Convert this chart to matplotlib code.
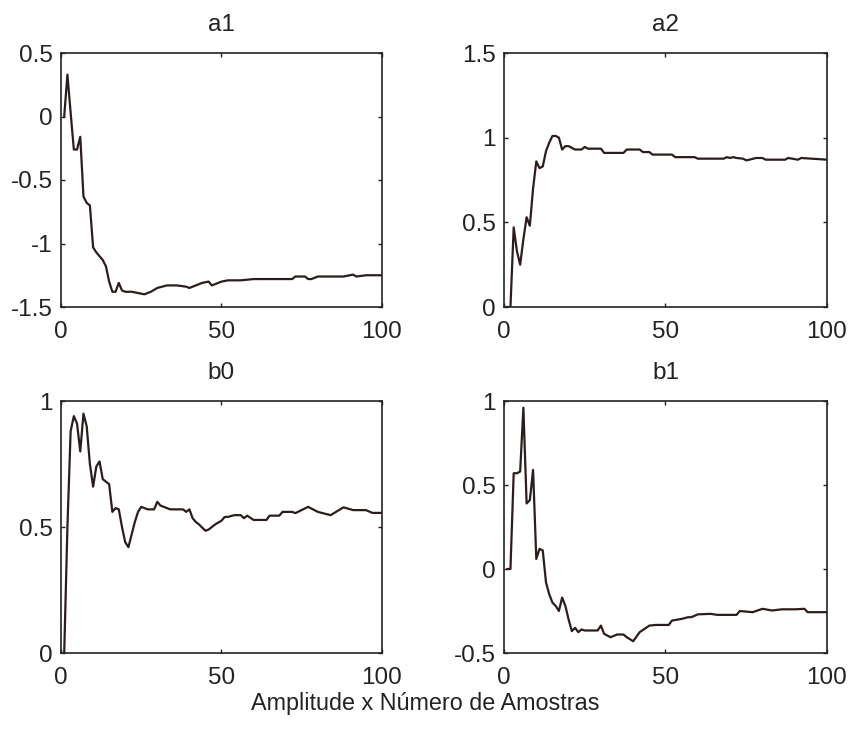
import matplotlib
matplotlib.use("Agg")
import matplotlib.pyplot as plt

plt.rcParams['font.family'] = ['Liberation Sans', 'DejaVu Sans']

# Parameter estimates vs. sample number
a1_x = [1, 2, 3, 4, 5, 6, 7, 8, 9, 10, 11, 12, 13, 14, 15, 16, 17, 18, 19, 20,
        22, 24, 26, 28, 30, 33, 36, 39, 40, 42, 44, 46, 47, 48, 50, 52, 56, 60,
        66, 72, 73, 76, 77, 78, 80, 84, 88, 91, 92, 95, 100]
a1_y = [0, 0.33, 0.03, -0.26, -0.26, -0.16, -0.63, -0.68, -0.70, -1.03, -1.07,
        -1.10, -1.13, -1.18, -1.30, -1.38, -1.38, -1.31, -1.37, -1.38, -1.38,
        -1.39, -1.40, -1.38, -1.35, -1.33, -1.33, -1.34, -1.35, -1.33, -1.31,
        -1.30, -1.33, -1.32, -1.30, -1.29, -1.29, -1.28, -1.28, -1.28, -1.26,
        -1.26, -1.28, -1.28, -1.26, -1.26, -1.26, -1.245, -1.26, -1.25, -1.25]

a2_x = [1, 2, 3, 4, 5, 6, 7, 8, 9, 10, 11, 12, 13, 14, 15, 16, 17, 18, 19, 20,
        21, 22, 24, 25, 26, 30, 31, 37, 38, 42, 43, 45, 46, 52, 53, 59, 60, 68,
        69, 70, 71, 72, 74, 75, 76, 78, 80, 81, 87, 88, 91, 92, 100]
a2_y = [0, 0, 0.47, 0.33, 0.25, 0.40, 0.53, 0.48, 0.70, 0.86, 0.82, 0.83, 0.92,
        0.97, 1.01, 1.01, 1.00, 0.93, 0.95, 0.95, 0.94, 0.93, 0.93, 0.945,
        0.935, 0.935, 0.91, 0.91, 0.93, 0.93, 0.915, 0.915, 0.90, 0.90, 0.885,
        0.885, 0.876, 0.876, 0.885, 0.88, 0.885, 0.88, 0.876, 0.866, 0.87,
        0.88, 0.88, 0.87, 0.87, 0.88, 0.87, 0.88, 0.87]

b0_x = [1, 2, 3, 4, 5, 6, 7, 8, 9, 10, 11, 12, 13, 14, 15, 16, 17, 18, 19, 20,
        21, 22, 23, 24, 25, 27, 29, 30, 31, 32, 34, 38, 39, 40, 41, 42, 43, 45,
        46, 48, 50, 51, 52, 54, 56, 57, 58, 60, 64, 65, 68, 69, 72, 73, 77, 80,
        84, 88, 91, 95, 97, 100]
b0_y = [0, 0.5, 0.88, 0.94, 0.91, 0.80, 0.95, 0.90, 0.75, 0.66, 0.74, 0.76,
        0.69, 0.68, 0.67, 0.56, 0.575, 0.57, 0.50, 0.44, 0.42, 0.47, 0.52, 0.56,
        0.58, 0.57, 0.57, 0.60, 0.585, 0.58, 0.57, 0.57, 0.56, 0.57, 0.535,
        0.52, 0.51, 0.485, 0.49, 0.51, 0.525, 0.54, 0.54, 0.547, 0.547, 0.535,
        0.545, 0.528, 0.528, 0.545, 0.545, 0.56, 0.56, 0.555, 0.58, 0.56,
        0.547, 0.578, 0.567, 0.567, 0.556, 0.556]

b1_x = [1, 2, 3, 4, 5, 6, 7, 8, 9, 10, 11, 12, 13, 14, 15, 16, 17, 18, 19, 20,
        21, 22, 23, 24, 25, 27, 29, 30, 31, 33, 35, 37, 38, 40, 42, 45, 47, 51,
        52, 55, 57, 58, 60, 64, 66, 72, 73, 77, 80, 83, 86, 90, 93, 94, 100]
b1_y = [0, 0, 0.57, 0.57, 0.58, 0.96, 0.39, 0.41, 0.59, 0.06, 0.12, 0.11,
        -0.08, -0.15, -0.20, -0.22, -0.25, -0.17, -0.22, -0.30, -0.37, -0.35,
        -0.376, -0.36, -0.366, -0.366, -0.366, -0.337, -0.386, -0.406, -0.39,
        -0.39, -0.406, -0.43, -0.376, -0.337, -0.333, -0.333, -0.307, -0.297,
        -0.287, -0.287, -0.27, -0.267, -0.273, -0.273, -0.25, -0.257, -0.237,
        -0.247, -0.24, -0.24, -0.237, -0.257, -0.257]

titles = ['a1', 'a2', 'b0', 'b1']
xs = [a1_x, a2_x, b0_x, b1_x]
ys = [a1_y, a2_y, b0_y, b1_y]
ylims = [(-1.5, 0.5), (0, 1.5), (0, 1), (-0.5, 1)]
yticks = [[-1.5, -1, -0.5, 0, 0.5], [0, 0.5, 1, 1.5], [0, 0.5, 1], [-0.5, 0, 0.5, 1]]
yticklabels = [['-1.5', '-1', '-0.5', '0', '0.5'], ['0', '0.5', '1', '1.5'],
               ['0', '0.5', '1'], ['-0.5', '0', '0.5', '1']]
xticks = [0, 50, 100]

W, H = 853, 731
fig = plt.figure(figsize=(W / 100, H / 100), dpi=100)

# axes rectangles in pixels: (left, top, right, bottom)
boxes = [(61, 53, 382, 307), (504, 53, 827, 307),
         (61, 401, 382, 653), (504, 401, 827, 653)]

line_color = '#2e1c1c'
fs = 17.5
for i, (l, t, r, b) in enumerate(boxes):
    ax = fig.add_axes([l / W, 1 - b / H, (r - l) / W, (b - t) / H])
    ax.plot(xs[i], ys[i], color=line_color, lw=1.6)
    ax.set_xlim(0, 100)
    ax.set_ylim(*ylims[i])
    ax.set_xticks(xticks)
    ax.set_xticklabels([str(v) for v in xticks])
    ax.set_yticks(yticks[i])
    ax.set_yticklabels(yticklabels[i])
    ax.tick_params(direction='in', length=3, width=1, top=True, right=True,
                   labelsize=fs, colors='#222222')
    ax.tick_params(axis='x', pad=10)
    ax.tick_params(axis='y', pad=6)
    for s in ax.spines.values():
        s.set_linewidth(1.2)
        s.set_color('#222222')
    ax.set_title(titles[i], fontsize=fs, pad=16, color='#222222')

fig.text(0.498, 0.037, 'Amplitude x Número de Amostras', ha='center',
         va='center', fontsize=16.8, color='#222222')

fig.savefig('out.png', dpi=100)
